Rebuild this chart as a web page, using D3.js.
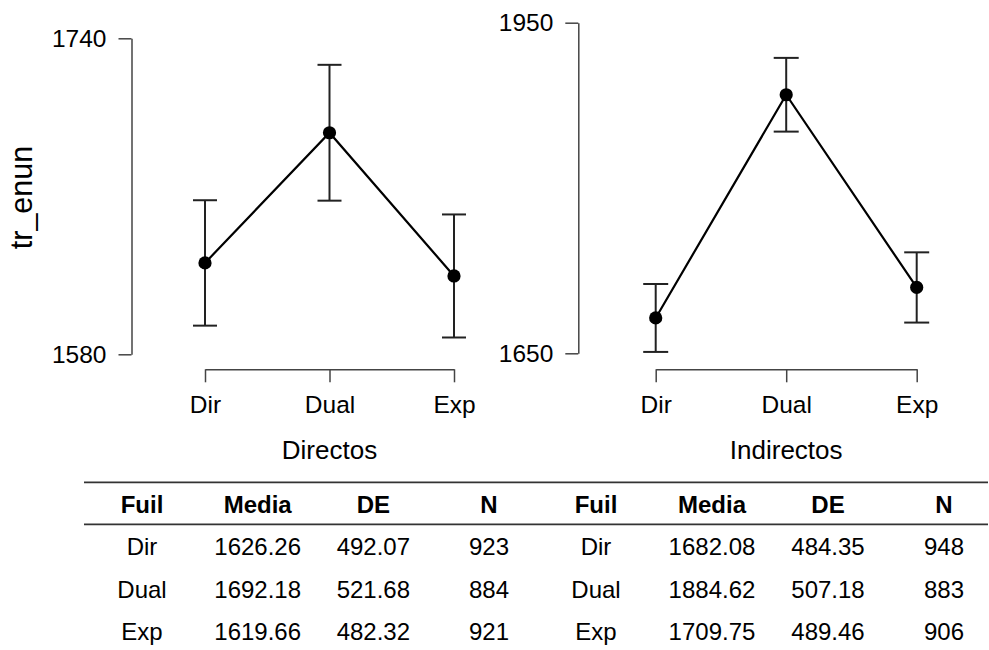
<!DOCTYPE html>
<html>
<head>
<meta charset="utf-8">
<script src="https://cdn.jsdelivr.net/npm/d3@7"></script>
<style>
  body { margin: 0; background: #fff; }
  svg { display: block; font-family: "Liberation Sans", Arial, sans-serif; }
</style>
</head>
<body>
<div id="chart"></div>
<script>
// datos
const categories = ['Dir', 'Dual', 'Exp']
const directosMean = [1626.26, 1692.18, 1619.66]
const directosSD = [492.07, 521.68, 482.32]
const directosN = [923, 884, 921]
const directosCI = [31.75, 34.39, 31.15]
const indirectosMean = [1682.08, 1884.62, 1709.75]
const indirectosSD = [484.35, 507.18, 489.46]
const indirectosN = [948, 883, 906]
const indirectosCI = [30.83, 33.45, 31.87]
const directosTicks = [1580, 1740]
const indirectosTicks = [1650, 1950]
const tableHeaders = ['Fuil', 'Media', 'DE', 'N']

const width = 989
const height = 650
const axisColor = '#444'

const svg = d3.select('#chart').append('svg').attr('width', width).attr('height', height)

// un panel: eje y, eje x, barras de error, linea y puntos
const drawPanel = (opt) => {
  const g = svg.append('g')
  const y = d3.scaleLinear().domain(d3.extent(opt.ticks)).range([opt.y0, opt.y1])
  const x = d3.scalePoint().domain(categories).range([opt.x0, opt.x1])
  const data = categories.map((c, i) => ({ cat: c, mean: opt.mean[i], ci: opt.ci[i] }))

  const yAxis = g.append('g')
    .attr('transform', `translate(${opt.axisX},0)`)
    .call(d3.axisLeft(y).tickValues(opt.ticks).tickSize(13).tickSizeOuter(0).tickPadding(12).tickFormat(d3.format('d')))
  yAxis.selectAll('path,line').attr('stroke', axisColor).attr('stroke-width', 1.5)
  yAxis.selectAll('text').attr('font-size', 24.5).attr('fill', '#000').attr('font-family', null)

  const xAxis = g.append('g')
    .attr('transform', `translate(0,369.3)`)
    .call(d3.axisBottom(x).tickSize(13).tickSizeOuter(0).tickPadding(13))
  xAxis.selectAll('path,line').attr('stroke', axisColor).attr('stroke-width', 1.5)
  xAxis.selectAll('text').attr('font-size', 24.5).attr('fill', '#000').attr('font-family', null)

  g.append('text')
    .text(opt.title)
    .attr('x', (opt.x0 + opt.x1) / 2)
    .attr('y', 459)
    .attr('text-anchor', 'middle')
    .attr('font-size', 26)
    .attr('fill', '#000')

  // barras de error (IC 95%)
  const eb = g.selectAll('.eb').data(data).enter().append('g').attr('class', 'eb')
  eb.append('line')
    .attr('x1', d => x(d.cat)).attr('x2', d => x(d.cat))
    .attr('y1', d => y(d.mean - d.ci)).attr('y2', d => y(d.mean + d.ci))
  eb.append('line')
    .attr('x1', d => x(d.cat) - opt.cap).attr('x2', d => x(d.cat) + opt.cap)
    .attr('y1', d => y(d.mean + d.ci)).attr('y2', d => y(d.mean + d.ci))
  eb.append('line')
    .attr('x1', d => x(d.cat) - opt.cap).attr('x2', d => x(d.cat) + opt.cap)
    .attr('y1', d => y(d.mean - d.ci)).attr('y2', d => y(d.mean - d.ci))
  eb.selectAll('line').attr('stroke', '#222').attr('stroke-width', 2)

  g.append('path')
    .datum(data)
    .attr('d', d3.line().x(d => x(d.cat)).y(d => y(d.mean)))
    .attr('fill', 'none')
    .attr('stroke', '#000')
    .attr('stroke-width', 2.2)

  g.selectAll('.pt').data(data).enter().append('circle')
    .attr('class', 'pt')
    .attr('cx', d => x(d.cat))
    .attr('cy', d => y(d.mean))
    .attr('r', 6.6)
    .attr('fill', '#000')
}

drawPanel({ mean: directosMean, ci: directosCI, ticks: directosTicks, y0: 354.3, y1: 38.3,
  x0: 205, x1: 454, axisX: 131.5, cap: 12, title: 'Directos' })
drawPanel({ mean: indirectosMean, ci: indirectosCI, ticks: indirectosTicks, y0: 353.3, y1: 22.7,
  x0: 655.7, x1: 916.7, axisX: 578.3, cap: 12.5, title: 'Indirectos' })

// etiqueta eje y
svg.append('text')
  .text('tr_enun')
  .attr('transform', 'translate(31.5,197.5) rotate(-90)')
  .attr('text-anchor', 'middle')
  .attr('font-size', 30.5)
  .attr('fill', '#000')

// tabla descriptiva
const drawTable = (colRange, mean, sd, n) => {
  const col = d3.scalePoint().domain(tableHeaders).range(colRange)
  const row = d3.scalePoint().domain(categories).range([555, 640])
  const g = svg.append('g').attr('font-size', 24).attr('fill', '#000').attr('text-anchor', 'middle')
  g.selectAll('.th').data(tableHeaders).enter().append('text')
    .attr('x', d => col(d)).attr('y', 512.7)
    .attr('font-weight', 'bold')
    .text(d => d)
  const rows = categories.map((c, i) => [c, mean[i].toFixed(2), sd[i].toFixed(2), String(n[i])])
  rows.forEach((r, i) => {
    g.selectAll(null).data(r).enter().append('text')
      .attr('x', (d, j) => col(tableHeaders[j]))
      .attr('y', row(categories[i]))
      .text(d => d)
  })
}
drawTable([142, 489], directosMean, directosSD, directosN)
drawTable([596, 944], indirectosMean, indirectosSD, indirectosN)

svg.append('line').attr('x1', 84).attr('x2', 988).attr('y1', 482.3).attr('y2', 482.3)
  .attr('stroke', '#333').attr('stroke-width', 1.8)
svg.append('line').attr('x1', 84).attr('x2', 988).attr('y1', 524.3).attr('y2', 524.3)
  .attr('stroke', '#333').attr('stroke-width', 1.8)
</script>
</body>
</html>
